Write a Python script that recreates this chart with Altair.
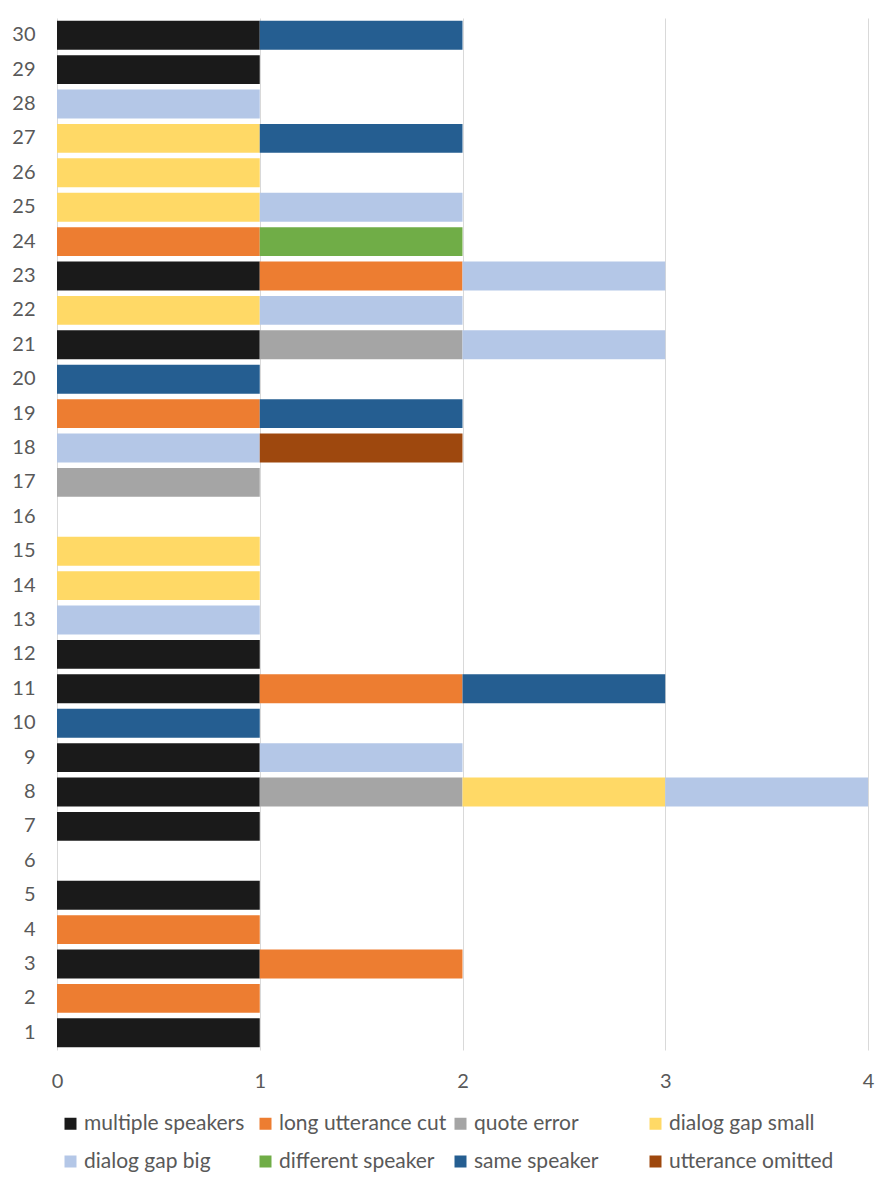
import altair as alt
import pandas as pd

# Error categories, in stacking / legend order
categories = [
    "multiple speakers",
    "long utterance cut",
    "quote error",
    "dialog gap small",
    "dialog gap big",
    "different speaker",
    "same speaker",
    "utterance omitted",
]
colors = ["#1a1a1a", "#ed7d31", "#a5a5a5", "#ffd966",
          "#b4c7e7", "#70ad47", "#255e91", "#9e480e"]

items = list(range(1, 31))

# Items flagged with each error type (one unit per flag)
multiple_speakers = [1, 3, 5, 7, 8, 9, 11, 12, 21, 23, 29, 30]
long_utterance_cut = [2, 3, 4, 11, 19, 23, 24]
quote_error = [8, 17, 21]
dialog_gap_small = [8, 14, 15, 22, 25, 26, 27]
dialog_gap_big = [8, 9, 13, 18, 21, 22, 23, 25, 28]
different_speaker = [24]
same_speaker = [10, 11, 19, 20, 27, 30]
utterance_omitted = [18]

series = [multiple_speakers, long_utterance_cut, quote_error, dialog_gap_small,
          dialog_gap_big, different_speaker, same_speaker, utterance_omitted]

rows = []
for k, (name, flagged) in enumerate(zip(categories, series)):
    for it in flagged:
        rows.append({"item": str(it), "type": name, "rank": k, "count": 1})
df = pd.DataFrame(rows)

font = "Lato"
txt = "#595959"
fs = 20

chart = alt.Chart(df).mark_bar(stroke=None).encode(
    x=alt.X("count:Q", stack="zero",
            scale=alt.Scale(domain=[0, 4], nice=False),
            axis=alt.Axis(values=[0, 1, 2, 3, 4], format="d", title=None,
                          domain=False, ticks=False, grid=True,
                          gridColor="#d9d9d9", gridWidth=1,
                          labelFlush=False,
                          labelPadding=21, labelFontSize=fs,
                          labelColor=txt, labelFont=font)),
    y=alt.Y("item:N", sort=[str(i) for i in reversed(items)],
            scale=alt.Scale(domain=[str(i) for i in reversed(items)],
                            paddingInner=0.16, paddingOuter=0.08),
            axis=alt.Axis(title=None, domain=False, ticks=False,
                          labelPadding=22, labelFontSize=fs,
                          labelColor=txt, labelFont=font)),
    color=alt.Color("type:N",
                    scale=alt.Scale(domain=categories, range=colors),
                    legend=alt.Legend(title=None, orient="none",
                                      legendX=3, legendY=1095,
                                      direction="horizontal", columns=4,
                                      gridAlign="all", columnPadding=3,
                                      rowPadding=16,
                                      symbolType="square", symbolSize=144,
                                      symbolStrokeWidth=0, labelOffset=3,
                                      labelFontSize=21, labelColor=txt,
                                      labelFont=font, labelLimit=300)),
    order=alt.Order("rank:Q", sort="ascending"),
).properties(
    width=811,
    height=1032,
    autosize=alt.AutoSizeParams(type="none"),
    padding={"left": 57, "top": 18, "right": 15, "bottom": 134},
).configure_view(stroke=None)

chart.save("out.html", embed_options={"renderer": "svg", "actions": False})
